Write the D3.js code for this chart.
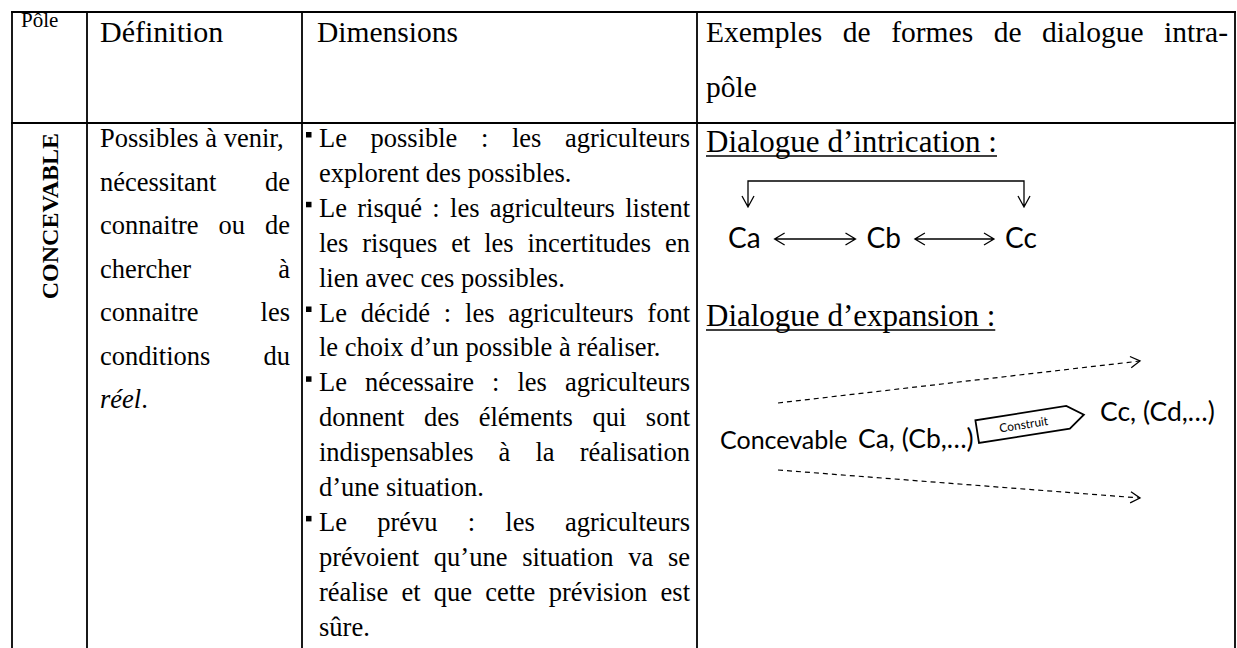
<!DOCTYPE html>
<html><head><meta charset="utf-8">
<script src="https://cdn.jsdelivr.net/npm/d3@7"></script>
<style>html,body{margin:0;padding:0;background:#fff;}svg{display:block;}</style>
</head><body>
<svg id="chart" width="1237" height="648"></svg>
<script>
// ---------- data ----------
const columns = ["Pôle", "Définition", "Dimensions", "Exemples"];
const headerLines = [["Pôle"], ["Définition"], ["Dimensions"], ["Exemples de formes de dialogue intra-", "pôle"]];
const poleLabel = "CONCEVABLE";
const definitionLines = ["Possibles à venir,", "nécessitant de", "connaitre ou de", "chercher à", "connaitre les", "conditions du", "réel."];
const dimensionBullets = [
  ["Le possible : les agriculteurs", "explorent des possibles."],
  ["Le risqué : les agriculteurs listent", "les risques et les incertitudes en", "lien avec ces possibles."],
  ["Le décidé : les agriculteurs font", "le choix d’un possible à réaliser."],
  ["Le nécessaire : les agriculteurs", "donnent des éléments qui sont", "indispensables à la réalisation", "d’une situation."],
  ["Le prévu : les agriculteurs", "prévoient qu’une situation va se", "réalise et que cette prévision est", "sûre."]
];
const exampleTitles = ["Dialogue d’intrication :", "Dialogue d’expansion :"];
const intricationNodes = ["Ca", "Cb", "Cc"];
const expansionLabels = ["Concevable", "Ca, (Cb,…)", "Construit", "Cc, (Cd,…)"];

// ---------- layout ----------
const W = 1237, H = 648;
const svg = d3.select("#chart");
const colX = d3.scaleOrdinal().domain(columns.concat(["end"])).range([12, 87, 302, 697, 1235]);
const tableTop = 12, headerBottom = 123;
const serif = "'Liberation Serif','Times New Roman',serif";
const sans = "Lato,'Open Sans',sans-serif";

// helper: draw (optionally justified) line
function drawLine(g, text, x0, width, y, justify, opts) {
  const words = text.split(" ");
  const size = opts.size, fam = opts.family || serif;
  if (!justify || words.length < 2) {
    const t = g.append("text").attr("x", x0).attr("y", y)
      .attr("font-family", fam).attr("font-size", size).attr("fill", "#000");
    if (opts.italicWord) {
      t.append("tspan").attr("font-style", "italic").text(opts.italicWord);
      t.append("tspan").text(text.slice(opts.italicWord.length));
    } else t.text(text);
    return t;
  }
  const nodes = words.map(w => g.append("text").attr("y", y)
    .attr("font-family", fam).attr("font-size", size).attr("fill", "#000").text(w));
  const widths = nodes.map(n => n.node().getComputedTextLength());
  const total = d3.sum(widths);
  const gap = (width - total) / (words.length - 1);
  let x = x0;
  nodes.forEach((n, i) => { n.attr("x", x); x += widths[i] + gap; });
}

// ---------- table borders ----------
const border = svg.append("g").attr("stroke", "#000").attr("stroke-width", 1.8);
border.append("line").attr("x1", colX("Pôle") - 0.9).attr("x2", colX("end") + 0.9).attr("y1", tableTop).attr("y2", tableTop);
border.append("line").attr("x1", colX("Pôle") - 0.9).attr("x2", colX("end") + 0.9).attr("y1", headerBottom).attr("y2", headerBottom);
columns.concat(["end"]).forEach(c => {
  border.append("line").attr("x1", colX(c)).attr("x2", colX(c)).attr("y1", tableTop - 0.9).attr("y2", H);
});

// ---------- header ----------
const hdr = svg.append("g");
hdr.append("text").attr("x", colX("Pôle") + 9).attr("y", 27).attr("font-family", serif).attr("font-size", 21).text(headerLines[0][0]);
hdr.append("text").attr("x", colX("Définition") + 13).attr("y", 42).attr("font-family", serif).attr("font-size", 30).text(headerLines[1][0]);
hdr.append("text").attr("x", colX("Dimensions") + 15).attr("y", 42).attr("font-family", serif).attr("font-size", 29.5).text(headerLines[2][0]);
drawLine(hdr, headerLines[3][0], colX("Exemples") + 9, colX("end") - colX("Exemples") - 16, 42, true, {size: 29.5});
drawLine(hdr, headerLines[3][1], colX("Exemples") + 9, 0, 97, false, {size: 29.5});

// ---------- pole ----------
svg.append("text").attr("transform", `translate(${(colX("Pôle") + colX("Définition")) / 2 + 8},133) rotate(-90)`)
  .attr("text-anchor", "end").attr("font-family", serif).attr("font-weight", "bold").attr("font-size", 24).text(poleLabel);

// ---------- definition ----------
const defY = d3.scaleLinear().domain([0, 1]).range([147, 147 + 43.5]);
const defG = svg.append("g");
const defX0 = colX("Définition") + 13, defW = colX("Dimensions") - colX("Définition") - 25;
definitionLines.forEach((l, i) => {
  const last = i === definitionLines.length - 1;
  drawLine(defG, l, defX0, defW, defY(i), !last && i > 0, {size: 26.5, italicWord: last ? "réel" : null});
});

// ---------- dimensions ----------
const dimY = d3.scaleLinear().domain([0, 1]).range([147, 147 + 34.9]);
const dimG = svg.append("g");
const dimX0 = colX("Dimensions") + 17, dimW = colX("Exemples") - colX("Dimensions") - 24;
let li = 0;
dimensionBullets.forEach(b => {
  b.forEach((l, j) => {
    const y = dimY(li);
    if (j === 0) dimG.append("rect").attr("x", colX("Dimensions") + 4).attr("y", y - 15).attr("width", 5.5).attr("height", 5.5).attr("fill", "#000");
    drawLine(dimG, l, dimX0, dimW, y, j < b.length - 1, {size: 26.5});
    li++;
  });
});

// ---------- examples ----------
const ex = svg.append("g");
const exX0 = colX("Exemples") + 9;
const titleY = [152, 326];
exampleTitles.forEach((t, i) => {
  const tt = ex.append("text").attr("x", exX0).attr("y", titleY[i]).attr("font-family", serif).attr("font-size", 31).text(t);
  const w = tt.node().getComputedTextLength();
  ex.append("line").attr("x1", exX0).attr("x2", exX0 + w).attr("y1", titleY[i] + 4).attr("y2", titleY[i] + 4)
    .attr("stroke", "#000").attr("stroke-width", 1.5);
});

// intrication diagram
const nodeX = d3.scalePoint().domain(intricationNodes).range([728, 1005]);
const nodeBase = 248;
const nodeW = {};
intricationNodes.forEach(n => {
  const t = ex.append("text").attr("x", nodeX(n)).attr("y", nodeBase).attr("font-family", sans).attr("font-size", 28).text(n);
  nodeW[n] = t.node().getComputedTextLength();
});
const arrowStroke = {stroke: "#000", "stroke-width": 1.3, fill: "none"};
function applyStroke(sel, s) { Object.entries(s).forEach(([k, v]) => sel.attr(k, v)); return sel; }
for (let i = 0; i < intricationNodes.length - 1; i++) {
  const a = intricationNodes[i], b = intricationNodes[i + 1];
  const x1 = nodeX(a) + nodeW[a] + 14, x2 = nodeX(b) - 11, y = nodeBase - 9;
  applyStroke(ex.append("path").attr("d", `M${x1},${y}H${x2}M${x1 + 10},${y - 6}L${x1},${y}L${x1 + 10},${y + 6}M${x2 - 10},${y - 6}L${x2},${y}L${x2 - 10},${y + 6}`), arrowStroke);
}
const bL = nodeX("Ca") + 20, bR = nodeX("Cc") + 19, bTop = 181, bBot = 207;
applyStroke(ex.append("path").attr("d",
  `M${bL},${bBot}V${bTop}H${bR}V${bBot}M${bL - 6},${bBot - 11}L${bL},${bBot}L${bL + 6},${bBot - 11}M${bR - 6},${bBot - 11}L${bR},${bBot}L${bR + 6},${bBot - 11}`), arrowStroke);

// expansion diagram
const expBase = 449;
ex.append("text").attr("x", 720).attr("y", expBase).attr("font-family", sans).attr("font-size", 25).text(expansionLabels[0]);
ex.append("text").attr("x", 858).attr("y", expBase - 1).attr("font-family", sans).attr("font-size", 26.5).text(expansionLabels[1]);
ex.append("text").attr("x", 1100).attr("y", 421).attr("font-family", sans).attr("font-size", 26.5).text(expansionLabels[3]);
const tag = ex.append("g").attr("transform", "translate(979,443) rotate(-9)");
tag.append("path").attr("d", "M0,0V-23H92L108,-11.5L92,0Z").attr("fill", "#fff").attr("stroke", "#000").attr("stroke-width", 1.8);
tag.append("text").attr("x", 47).attr("y", -7).attr("text-anchor", "middle").attr("font-family", sans).attr("font-size", 12).text(expansionLabels[2]);
// dashed arrows
[[778, 403, 1140, 361], [778, 470, 1140, 498]].forEach(([x1, y1, x2, y2]) => {
  ex.append("line").attr("x1", x1).attr("y1", y1).attr("x2", x2).attr("y2", y2)
    .attr("stroke", "#000").attr("stroke-width", 1.2).attr("stroke-dasharray", "5,4");
  const ang = Math.atan2(y2 - y1, x2 - x1);
  const a1 = ang + Math.PI * 0.83, a2 = ang - Math.PI * 0.83, L = 11;
  applyStroke(ex.append("path").attr("d",
    `M${x2 + L * Math.cos(a1)},${y2 + L * Math.sin(a1)}L${x2},${y2}L${x2 + L * Math.cos(a2)},${y2 + L * Math.sin(a2)}`), {stroke: "#000", "stroke-width": 1.3, fill: "none"});
});
</script>
</body></html>
